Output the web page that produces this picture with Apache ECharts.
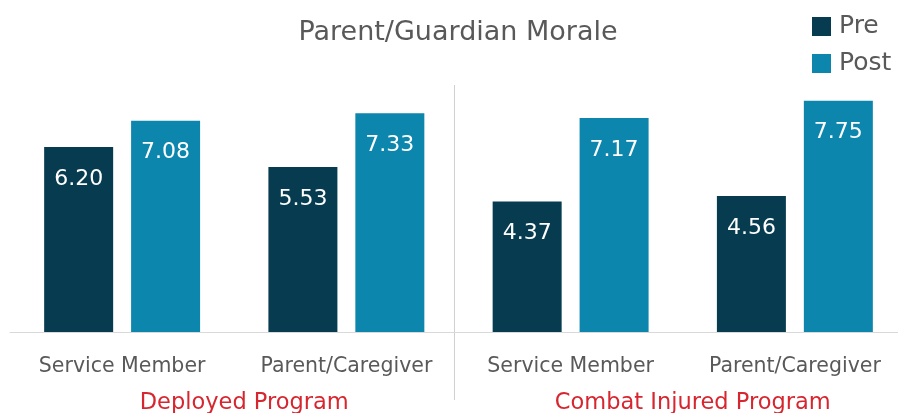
<!DOCTYPE html>
<html>
<head>
<meta charset="utf-8">
<script src="https://cdn.jsdelivr.net/npm/echarts@6/dist/echarts.min.js"></script>
<style>
  html, body { margin: 0; padding: 0; background: #fff; }
  #container { width: 898px; height: 413px; }
</style>
</head>
<body>
<div id="container"></div>
<script>
// 数据
const categories = ['Service Member', 'Parent/Caregiver', 'Service Member', 'Parent/Caregiver']
const groups = ['Deployed Program', 'Combat Injured Program']
const preValues = [6.20, 5.53, 4.37, 4.56]
const postValues = [7.08, 7.33, 7.17, 7.75]

const fontFamily = '"DejaVu Sans", sans-serif'
const gray = '#595959'

let chartDom = document.getElementById('container')
let myChart = echarts.init(chartDom, null, { renderer: 'canvas' })

let barLabel = {
  show: true,
  position: 'insideTop',
  distance: 21,
  color: '#fff',
  fontSize: 22,
  fontFamily: fontFamily,
  formatter: p => p.value.toFixed(2)
}

let option = {
  animation: false,
  title: {
    text: 'Parent/Guardian Morale',
    left: 458,
    textAlign: 'center',
    top: 19,
    padding: 0,
    textStyle: { color: gray, fontSize: 27, fontWeight: 'normal', fontFamily: fontFamily }
  },
  legend: {
    orient: 'vertical',
    left: 812,
    top: 14,
    padding: 0,
    itemWidth: 19,
    itemHeight: 19,
    itemGap: 12,
    icon: 'rect',
    textStyle: { color: gray, fontSize: 25, lineHeight: 19, fontFamily: fontFamily, padding: [0, 0, 0, 3] },
    data: ['Pre', 'Post']
  },
  grid: {
    left: 10,
    width: 897,
    top: 33.5,
    bottom: 81,
    outerBoundsMode: 'none'
  },
  xAxis: [
    {
      type: 'category',
      data: categories,
      axisLine: { lineStyle: { color: '#d9d9d9', width: 1 } },
      axisTick: { length: 8, lineStyle: { color: '#d4d4d4' } },
      axisLabel: { color: gray, fontSize: 20.5, fontFamily: fontFamily, margin: 24 }
    },
    {
      type: 'category',
      data: groups,
      position: 'bottom',
      offset: 39,
      axisLine: { show: false },
      axisTick: { show: false },
      axisLabel: { color: '#d7262f', fontSize: 22.5, fontFamily: fontFamily, margin: 21, padding: [0, 0, 0, 20] }
    }
  ],
  yAxis: {
    type: 'value',
    min: 0,
    max: 10,
    show: false,
    splitLine: { show: false }
  },
  series: [
    {
      name: 'Pre',
      type: 'bar',
      barWidth: 69,
      barGap: '26%',
      itemStyle: { color: '#073c50' },
      label: barLabel,
      data: preValues
    },
    {
      name: 'Post',
      type: 'bar',
      barWidth: 69,
      itemStyle: { color: '#0d86ae' },
      label: barLabel,
      data: postValues
    }
  ]
}

option && myChart.setOption(option)

// 两个项目之间的分隔线
let x1 = myChart.convertToPixel({ xAxisIndex: 0 }, 1)
let x2 = myChart.convertToPixel({ xAxisIndex: 0 }, 2)
let divX = Math.round((x1 + x2) / 2) - 5 + 0.5
myChart.setOption({
  graphic: [{
    type: 'line',
    shape: { x1: divX, y1: 85, x2: divX, y2: 400 },
    style: { stroke: '#d0d0d0', lineWidth: 1 }
  }]
})
</script>
</body>
</html>
